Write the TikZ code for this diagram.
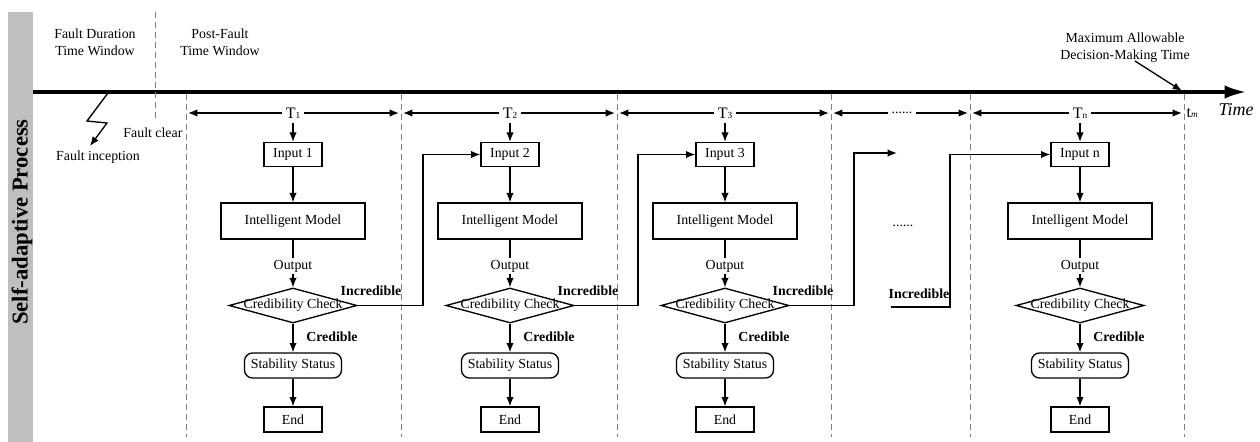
\documentclass[tikz,border=0pt]{standalone}
\usepackage{fontspec}
\setmainfont{Liberation Serif}
\usetikzlibrary{arrows.meta,shapes.geometric}
\newdimen\px \px=0.75pt
\begin{document}
\begin{tikzpicture}[x=0.75pt,y=-0.75pt,
  font=\fontsize{10.4}{12.5}\selectfont,
  box/.style={draw, line width=1pt, inner sep=0pt, minimum width=58\px, minimum height=24\px},
  rbox/.style={draw, line width=1pt, inner sep=0pt, rounded corners=6pt, minimum width=97\px, minimum height=25\px},
  diam/.style={draw, diamond, line width=1pt, inner sep=0pt, minimum width=128\px, minimum height=35\px},
  arr/.style={line width=1pt, -{Latex[length=7pt,width=5.5pt]}},
  dbl/.style={line width=1pt, {Latex[length=7pt,width=5.5pt]}-{Latex[length=7pt,width=5.5pt]}},
  dsh/.style={gray, line width=0.7pt, dash pattern=on 6\px off 4\px},
  lbl/.style={font=\fontsize{10.4}{12.5}\selectfont\bfseries, inner sep=0pt},
  tl/.style={fill=white, inner sep=3pt, font=\fontsize{12}{14}\selectfont}
]
\useasboundingbox (0,0) rectangle (1260,442);
% side bar
\fill[gray!50] (8,12) rectangle (33,442);
\node[rotate=90, font=\fontsize{17}{20}\selectfont\bfseries] (side) at (22,222) {Self-adaptive Process};
% timeline
\coordinate (t0) at (33,92);
\coordinate (t1) at (1246,92);
\draw[line width=2.3pt, -{Latex[length=16pt,width=10pt]}] (t0) -- (t1);
\node[font=\fontsize{13.5}{16}\selectfont\itshape] (time) at (1236,110) {Time};
% top labels
\node[align=center] (fdw) at (95,42) {Fault Duration\\Time Window};
\node[align=center] (pfw) at (220,42) {Post-Fault\\Time Window};
\node[align=center] (mad) at (1125,48) {Maximum Allowable\\Decision-Making Time};
\coordinate (madA) at (1135,61);
\coordinate (madB) at (1182,91);
\draw[arr] (madA) -- (madB);
% fault
\coordinate (f0) at (108,93);
\coordinate (f1) at (87,121);
\coordinate (f2) at (107,123);
\coordinate (f3) at (90,146);
\draw[arr] (f0) -- (f1) -- (f2) -- (f3);
\node (finc) at (98,157) {Fault inception};
\node[anchor=east, inner sep=1pt] (fclr) at (184,133) {Fault clear};
\coordinate (fcA) at (155,12);
\coordinate (fcB) at (155,120);
\draw[dsh] (fcA) -- (fcB);
% column separators
\foreach \x [count=\k] in {186,401,617,831,970,1184}{
  \coordinate (sA\k) at (\x,94);
  \coordinate (sB\k) at (\x,437);
  \draw[dsh] (sA\k) -- (sB\k);
}
% interval arrows
\foreach \a/\b/\k in {188/399/1,403/615/2,619/829/3,833/968/4,972/1182/5}{
  \coordinate (iA\k) at (\a,113);
  \coordinate (iB\k) at (\b,113);
  \draw[dbl] (iA\k) -- (iB\k);
}
\node[tl] (T1) at (293,113) {T{\fontsize{7}{8}\selectfont 1}};
\node[tl] (T2) at (510,113) {T{\fontsize{7}{8}\selectfont 2}};
\node[tl] (T3) at (725,113) {T{\fontsize{7}{8}\selectfont 3}};
\node[tl, inner ysep=2pt, inner xsep=3pt, font=\fontsize{10.4}{12}\selectfont] (Td) at (902,113) {......};
\node[tl] (Tn) at (1080,113) {T{\fontsize{7}{8}\selectfont n}};
\node[anchor=west, inner sep=1pt, font=\fontsize{12}{14}\selectfont] (tm) at (1185,113) {t{\fontsize{7}{8}\selectfont\itshape m}};
% columns
\foreach \i/\c in {1/293,2/510,3/725,n/1080}{
  \node[box] (in\i) at (\c,154.5) {Input \i};
  \node[box, minimum width=144\px, minimum height=36\px] (im\i) at (\c,221) {Intelligent Model};
  \node[inner sep=1pt] (out\i) at (\c,266) {Output};
  \node[diam] (d\i) at (\c,305.5) {};
  \node[inner sep=0pt] (dt\i) at (d\i.center) {Credibility Check};
  \node[rbox] (st\i) at (\c,365.5) {Stability Status};
  \node[box, minimum height=25\px] (e\i) at (\c,419.5) {End};
  \node[lbl, anchor=west] (cr\i) at (\c+13,337) {Credible};
  \draw[arr] (T\i) -- (in\i);
  \draw[arr] (in\i) -- (im\i);
  \draw[line width=1pt] (im\i) -- (out\i);
  \draw[arr] (out\i) -- (d\i);
  \draw[arr] (d\i) -- (st\i);
  \draw[arr] (st\i) -- (e\i);
}
\foreach \i/\c in {1/293,2/510,3/725}{
  \node[lbl] (inc\i) at (\c+78,291) {Incredible};
}
% incredible connectors
\coordinate (k1) at (423,0);
\coordinate (k2) at (638,0);
\coordinate (k3) at (854,0);
\coordinate (k4) at (950,0);
\coordinate (dotIn) at (897,153);
\coordinate (dotOut) at (891,307);
\draw[arr] (d1.east) -- (d1.east -| k1) |- (in2.west);
\draw[arr] (d2.east) -- (d2.east -| k2) |- (in3.west);
\draw[arr] (d3.east) -- (d3.east -| k3) |- (dotIn);
\draw[arr] (dotOut) -- (dotOut -| k4) |- (inn.west);
\node[lbl] (incd) at (919,294) {Incredible};
\node (dots) at (903,226) {......};
\end{tikzpicture}
\end{document}
